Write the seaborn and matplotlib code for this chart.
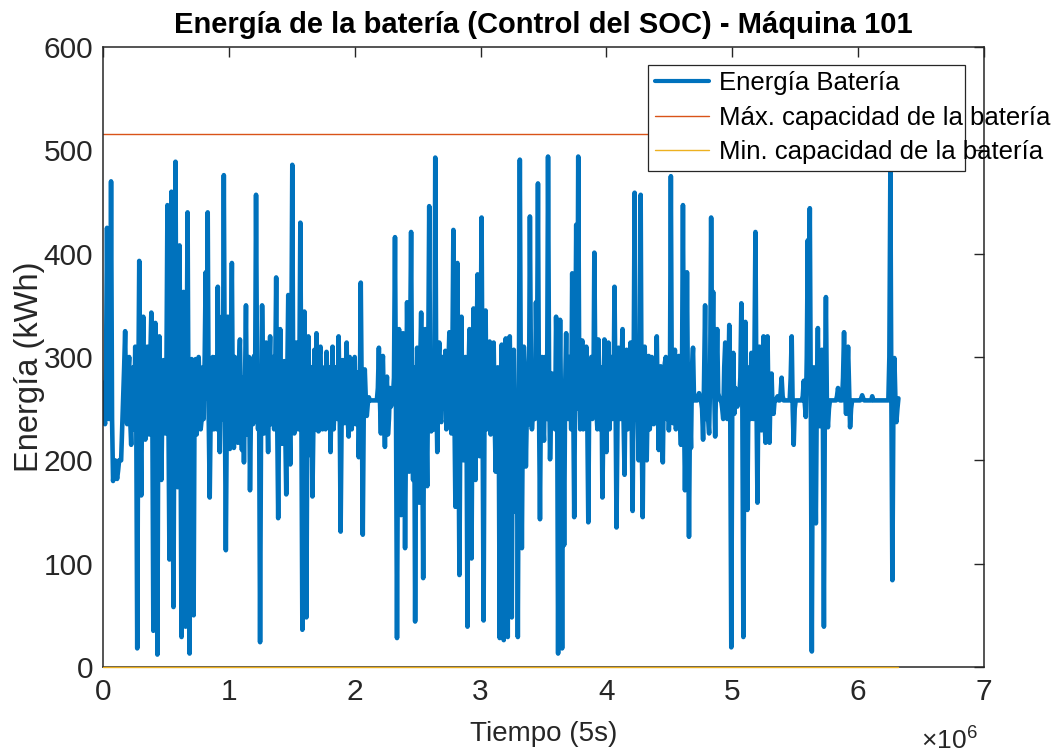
import numpy as np
import pandas as pd
import matplotlib
matplotlib.use("Agg")
import matplotlib.pyplot as plt
import seaborn as sns
from matplotlib.patches import Rectangle
from matplotlib.lines import Line2D
from matplotlib.ticker import FuncFormatter

# Energía almacenada en la batería (kWh): muestras pares (cada 16000 pasos de 5 s)
energia = [
    275, 235, 425, 240, 470, 180, 200, 182, 200, 200,
    262, 325, 235, 300, 215, 290, 310, 18, 393, 166,
    339, 220, 310, 225, 343, 35, 333, 12, 320, 181,
    297, 226, 447, 104, 460, 58, 489, 174, 408, 29,
    363, 39, 440, 13, 298, 50, 298, 243, 270, 240,
    240, 382, 440, 164, 278, 230, 300, 368, 208, 339,
    476, 113, 339, 211, 391, 212, 288, 217, 317, 210,
    198, 350, 240, 171, 297, 301, 457, 230, 24, 350,
    226, 314, 208, 320, 252, 230, 377, 144, 327, 216,
    296, 167, 360, 196, 486, 226, 314, 230, 430, 36,
    344, 48, 320, 205, 165, 307, 323, 228, 310, 230,
    290, 305, 240, 208, 310, 250, 288, 320, 131, 297,
    236, 314, 223, 278, 250, 300, 240, 203, 372, 128,
    288, 243, 261, 258, 258, 258, 258, 309, 226, 301,
    213, 281, 240, 252, 262, 416, 28, 327, 147, 323,
    115, 353, 189, 421, 181, 44, 309, 159, 343, 86,
    327, 175, 446, 228, 301, 493, 208, 314, 237, 278,
    306, 240, 324, 226, 423, 155, 391, 89, 339, 200,
    300, 39, 327, 105, 347, 181, 380, 204, 435, 45,
    345, 242, 315, 250, 314, 189, 290, 28, 312, 26,
    318, 29, 320, 48, 307, 150, 29, 491, 115, 310,
    194, 290, 436, 230, 284, 353, 468, 143, 300, 219,
    270, 494, 201, 284, 258, 339, 13, 336, 18, 118,
    323, 240, 290, 381, 145, 428, 494, 230, 316, 242,
    310, 140, 284, 240, 401, 250, 317, 230, 164, 317,
    208, 314, 256, 240, 368, 135, 309, 240, 327, 186,
    307, 240, 314, 151, 459, 313, 200, 457, 145, 310,
    200, 301, 243, 284, 240, 320, 210, 291, 198, 294,
    240, 229, 475, 236, 307, 245, 301, 215, 447, 171,
    382, 126, 212, 309, 258, 258, 265, 258, 220, 350,
    270, 226, 435, 363, 223, 327, 261, 258, 240, 314,
    240, 331, 19, 304, 270, 252, 262, 352, 29, 334,
    152, 290, 304, 240, 421, 159, 310, 229, 320, 217,
    320, 217, 284, 245, 258, 262, 258, 280, 258, 258,
    258, 258, 320, 215, 258, 258, 258, 258, 277, 242,
    413, 444, 15, 290, 139, 328, 233, 307, 39, 358,
    232, 258, 258, 258, 258, 270, 258, 258, 324, 245,
    310, 232, 258, 258, 258, 258, 258, 263, 258, 258,
    258, 258, 262, 258, 258, 258, 258, 258, 258, 258,
    258, 481, 84, 299, 237, 260,
]
# Muestras intermedias (entre cada par de muestras pares)
energia_intermedia = [
    255, 290, 280, 250, 240, 190, 190, 190, 200, 230,
    290, 250, 285, 240, 270, 230, 250, 260, 240, 280,
    240, 290, 235, 300, 250, 270, 240, 265, 230, 260,
    230, 290, 240, 280, 220, 300, 250, 260, 230, 270,
    250, 270, 230, 280, 240, 275, 225, 300, 230, 290,
    300, 260, 240, 250, 300, 260, 230, 250, 280, 240,
    260, 250, 275, 290, 240, 300, 240, 290, 245, 280,
    270, 225, 300, 250, 235, 260, 280, 265, 240, 290,
    270, 250, 285, 235, 300, 280, 240, 260, 250, 240,
    230, 280, 250, 300, 245, 290, 240, 280, 250, 260,
    240, 260, 250, 290, 240, 230, 270, 300, 245, 260,
    230, 255, 290, 270, 230, 290, 240, 260, 240, 280,
    280, 240, 300, 230, 290, 235, 285, 250, 260, 250,
    260, 255, 258, 258, 258, 258, 270, 260, 280, 250,
    260, 225, 270, 258, 280, 250, 240, 240, 280, 250,
    230, 270, 300, 250, 290, 230, 260, 290, 235, 270,
    240, 295, 260, 280, 230, 270, 290, 240, 300, 250,
    230, 290, 245, 300, 250, 280, 240, 260, 230, 270,
    250, 280, 230, 270, 235, 300, 260, 295, 240, 270,
    230, 290, 225, 300, 240, 285, 250, 270, 240, 280,
    250, 270, 240, 280, 230, 260, 250, 270, 250, 290,
    250, 235, 290, 250, 240, 280, 255, 270, 240, 300,
    240, 290, 245, 260, 230, 280, 250, 240, 260, 270,
    250, 300, 230, 260, 290, 250, 280, 300, 230, 280,
    240, 275, 300, 250, 285, 230, 270, 290, 240, 260,
    290, 230, 300, 250, 270, 240, 260, 295, 240, 280,
    230, 290, 250, 280, 240, 250, 290, 230, 260, 270,
    260, 230, 300, 235, 285, 250, 280, 240, 270, 300,
    285, 260, 250, 280, 230, 290, 240, 270, 250, 240,
    260, 250, 290, 258, 258, 262, 258, 250, 280, 240,
    240, 280, 300, 270, 280, 265, 258, 250, 290, 270,
    270, 240, 260, 245, 262, 258, 280, 250, 260, 240,
    260, 240, 270, 300, 260, 280, 245, 290, 240, 270,
    250, 270, 250, 258, 260, 258, 265, 262, 258, 258,
    258, 280, 250, 250, 258, 258, 258, 262, 255, 300,
    300, 250, 260, 230, 270, 250, 290, 240, 270, 250,
    250, 258, 258, 258, 262, 262, 258, 280, 270, 280,
    270, 250, 258, 258, 258, 258, 260, 260, 258, 258,
    258, 258, 258, 258, 258, 258, 258, 258, 258, 258,
    300, 260, 250, 260, 250,
]
paso_muestreo = 8000
capacidad_max = 516
capacidad_min = 0

etiquetas = [
    "Energía Batería",
    "Máx. capacidad de la batería",
    "Min. capacidad de la batería",
]
x_ticks = [0, 1e6, 2e6, 3e6, 4e6, 5e6, 6e6, 7e6]
y_ticks = [0, 100, 200, 300, 400, 500, 600]

AZUL = "#0072BD"
NARANJA = "#D95319"
AMARILLO = "#EDB120"
GRIS = "#262626"

sns.set_theme(style="white")
plt.rcParams["font.family"] = ["Liberation Sans", "DejaVu Sans"]
plt.rcParams["mathtext.fontset"] = "custom"
plt.rcParams["mathtext.rm"] = "Liberation Sans"
plt.rcParams["axes.unicode_minus"] = False

# Serie completa: se intercalan las muestras pares e intermedias
serie = np.empty(len(energia) + len(energia_intermedia))
serie[0::2] = energia
serie[1::2] = energia_intermedia
tiempo = np.arange(len(serie)) * paso_muestreo
t_fin = tiempo[-1]
df = pd.DataFrame({"tiempo": tiempo, "energia": serie})

W, H = 1055, 753
fig = plt.figure(figsize=(W / 100, H / 100), dpi=100)
ax = fig.add_axes([103 / W, 1 - 667 / H, 881 / W, 620 / H])

sns.lineplot(data=df, x="tiempo", y="energia", ax=ax, color=AZUL, lw=3.3,
             estimator=None, sort=False, legend=False,
             solid_joinstyle="round", solid_capstyle="round", zorder=2)
sns.lineplot(x=[0, t_fin], y=[capacidad_max, capacidad_max], ax=ax,
             color=NARANJA, lw=1.0, estimator=None, legend=False, zorder=2)
sns.lineplot(x=[0, t_fin], y=[capacidad_min, capacidad_min], ax=ax,
             color=AMARILLO, lw=1.0, estimator=None, legend=False,
             zorder=3, clip_on=False)

ax.set_xlim(0, 7e6)
ax.set_ylim(0, 600)
ax.set_xticks(x_ticks)
ax.set_yticks(y_ticks)
ax.xaxis.set_major_formatter(FuncFormatter(lambda v, p: f"{v / 1e6:g}"))
ax.tick_params(axis="both", which="major", direction="in", length=7,
               width=1.0, top=True, right=True, labelsize=21.5,
               colors=GRIS, labelcolor=GRIS)
ax.tick_params(axis="x", pad=8)
ax.tick_params(axis="y", pad=7)
for s in ax.spines.values():
    s.set_visible(True)
    s.set_color(GRIS)
    s.set_linewidth(1.1)

ax.set_title("Energía de la batería (Control del SOC) - Máquina 101",
             fontsize=21, fontweight="bold", pad=10, color="black")
ax.set_xlabel("Tiempo (5s)", fontsize=20, color=GRIS, labelpad=11)
ax.set_ylabel("Energía (kWh)", fontsize=23.5, color=GRIS)
ax.yaxis.set_label_coords(-0.066, 0.484)

fig.text(978 / W, 1 - 740 / H, r"$\times10^{6}$", ha="right", va="center",
         fontsize=19, color=GRIS)

# Leyenda con marco fijo
marco = Rectangle((648 / W, 1 - 171 / H), 317 / W, 106 / H,
                  transform=fig.transFigure, facecolor="white",
                  edgecolor=GRIS, lw=0.9, zorder=4, clip_on=False)
ax.add_patch(marco)
manejadores = [
    Line2D([], [], color=AZUL, lw=3.0),
    Line2D([], [], color=NARANJA, lw=1.0),
    Line2D([], [], color=AMARILLO, lw=1.0),
]
leg = ax.legend(manejadores, etiquetas, loc="upper left",
                bbox_to_anchor=(655 / W, 1 - 71 / H),
                bbox_transform=fig.transFigure, frameon=False,
                borderpad=0, borderaxespad=0, handlelength=2.1,
                handletextpad=0.4, labelspacing=0.41, fontsize=18.5)
leg.set_zorder(5)
for t in leg.get_texts():
    t.set_color("black")

fig.savefig("out.png", dpi=100)
